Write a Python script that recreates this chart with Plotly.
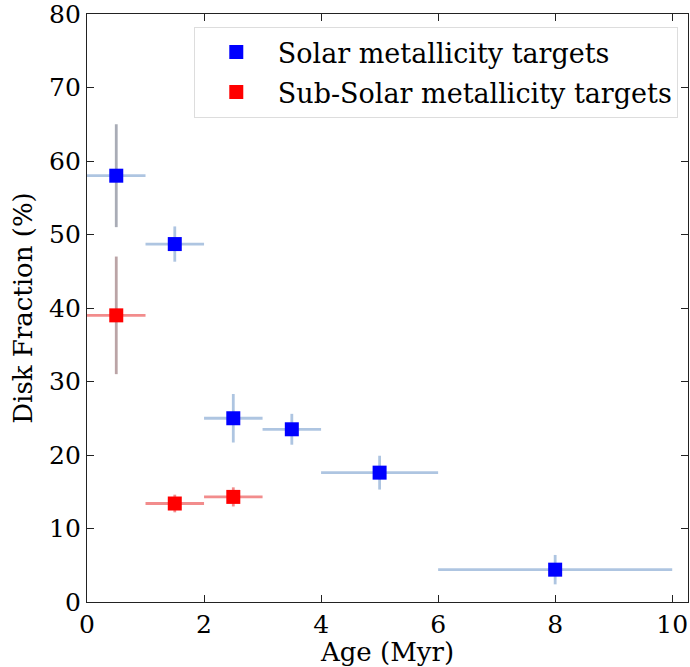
import plotly.graph_objects as go

# Solar metallicity targets
solar_age = [0.5, 1.5, 2.5, 3.5, 5.0, 8.0]
solar_age_err = [0.5, 0.5, 0.5, 0.5, 1.0, 2.0]
solar_frac = [58.0, 48.7, 25.0, 23.5, 17.6, 4.4]
solar_frac_err = [7.0, 2.4, 3.3, 2.1, 2.3, 2.0]

# Sub-solar metallicity targets
sub_age = [0.5, 1.5, 2.5]
sub_age_err = [0.5, 0.5, 0.5]
sub_frac = [39.0, 13.4, 14.3]
sub_frac_err = [8.0, 1.2, 1.3]

FONT = "DejaVu Serif"
fig = go.Figure()

# error bars for solar (vertical bar of first point drawn in gray separately)
solar_yerr_main = [0.0] + solar_frac_err[1:]
fig.add_trace(go.Scatter(
    x=solar_age, y=solar_frac, mode="markers",
    marker=dict(size=1, opacity=0),
    error_x=dict(type="data", array=solar_age_err, color="rgba(160,187,220,0.85)", thickness=2.8, width=0),
    error_y=dict(type="data", array=solar_yerr_main, color="rgba(160,187,220,0.85)", thickness=2.8, width=0),
    showlegend=False, hoverinfo="skip"))
fig.add_trace(go.Scatter(
    x=sub_age, y=sub_frac, mode="markers",
    marker=dict(size=1, opacity=0),
    error_x=dict(type="data", array=sub_age_err, color="rgba(240,120,120,0.85)", thickness=2.8, width=0),
    error_y=dict(type="data", array=[0.0] + sub_frac_err[1:], color="rgba(240,120,120,0.85)", thickness=2.8, width=0),
    showlegend=False, hoverinfo="skip"))
# gray vertical error bars for the youngest bin
fig.add_trace(go.Scatter(
    x=[solar_age[0]], y=[solar_frac[0]], mode="markers",
    marker=dict(size=1, opacity=0),
    error_y=dict(type="data", array=[solar_frac_err[0]], color="#a9acb6", thickness=2.8, width=0),
    showlegend=False, hoverinfo="skip"))
fig.add_trace(go.Scatter(
    x=[sub_age[0]], y=[sub_frac[0]], mode="markers",
    marker=dict(size=1, opacity=0),
    error_y=dict(type="data", array=[sub_frac_err[0]], color="#bba4a6", thickness=2.8, width=0),
    showlegend=False, hoverinfo="skip"))

# markers
fig.add_trace(go.Scatter(
    x=solar_age, y=solar_frac, mode="markers", name="Solar metallicity targets",
    marker=dict(symbol="square", size=14, color="#0000ff"), legendgroup="a"))
fig.add_trace(go.Scatter(
    x=sub_age, y=sub_frac, mode="markers", name="Sub-Solar metallicity targets",
    marker=dict(symbol="square", size=14, color="#ff0000"), legendgroup="b"))

axis_common = dict(
    showline=True, linecolor="#222", linewidth=1.3, mirror="ticks",
    ticks="inside", ticklen=7, tickwidth=1.2, tickcolor="#222",
    showgrid=False, zeroline=False, ticklabeloverflow="allow",
    tickfont=dict(family=FONT, size=25, color="black"),
)
fig.update_xaxes(range=[0, 10.27], tickvals=[0, 2, 4, 6, 8, 10],
                 title=dict(text="Age (Myr)", font=dict(family=FONT, size=26, color="black"), standoff=5),
                 **axis_common)
fig.update_yaxes(range=[0, 80], tickvals=[0, 10, 20, 30, 40, 50, 60, 70, 80],
                 title=dict(text="Disk Fraction (%)", font=dict(family=FONT, size=26, color="black"), standoff=8),
                 **axis_common)

fig.update_layout(
    width=690, height=667,
    margin=dict(l=87, r=2, t=14, b=65, autoexpand=False),
    plot_bgcolor="white", paper_bgcolor="white",
    font=dict(family=FONT, size=25, color="black"),
    legend=dict(x=0.983, y=0.978, xanchor="right", yanchor="top",
                bgcolor="rgba(255,255,255,0.8)", bordercolor="#dddddd", borderwidth=1,
                font=dict(family=FONT, size=27, color="black"),
                itemwidth=73,
                traceorder="grouped", tracegroupgap=2),
)

fig.write_html("out.html")
